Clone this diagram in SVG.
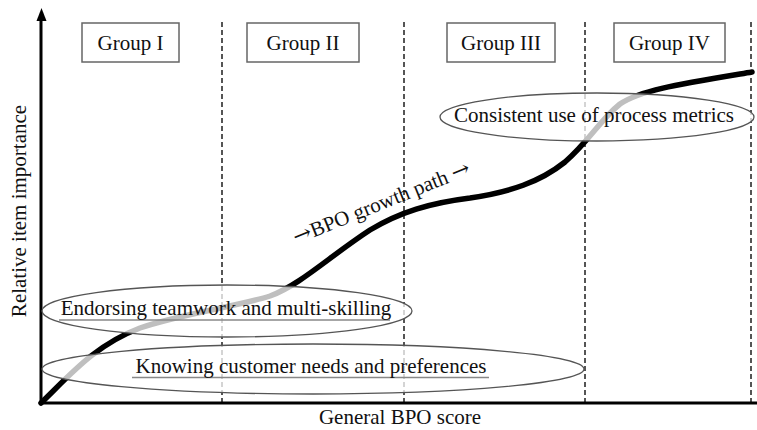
<svg xmlns="http://www.w3.org/2000/svg" width="757" height="430" viewBox="0 0 757 430">
<style>
  text { font-family: "Liberation Serif", "DejaVu Serif", serif; font-size: 21px; fill: #111; }
  .arr { font-family: "DejaVu Serif", serif; font-size: 22px; }
  .box { fill: #fff; stroke: #666; stroke-width: 1.5; }
  .div { stroke: #555; stroke-width: 2; stroke-dasharray: 5 3; fill: none; }
  .ell { fill: #fff; fill-opacity: 0.75; stroke: #555; stroke-width: 1.3; }
  .ul { stroke: #888; stroke-width: 1.5; }
  .axis { stroke: #000; stroke-width: 3; fill: none; }
</style>
<rect width="757" height="430" fill="#fff"/>
<g id="dividers">
  <line class="div" x1="222" y1="22" x2="222" y2="402"/>
  <line class="div" x1="404" y1="22" x2="404" y2="402"/>
  <line class="div" x1="585" y1="22" x2="585" y2="402"/>
  <line class="div" x1="751" y1="22" x2="751" y2="402"/>
</g>
<g id="connectors">
  <path id="growth-curve" d="M41,403 C70,375 95,345 140,328 C180,314 240,306 270,296 C300,285 330,256 370,230 C400,212 430,203 470,198 C510,192 540,182 565,162 C590,140 600,120 620,104 C640,90 680,84 752,72" fill="none" stroke="#000" stroke-width="5.5" stroke-linecap="round"/>
</g>
<g id="axes">
  <line class="axis" x1="41" y1="404" x2="41" y2="18"/>
  <polygon points="41.5,8 36.5,21 46.5,21" fill="#000"/>
  <line class="axis" x1="40" y1="403" x2="757" y2="403"/>
  <text x="26" y="211" text-anchor="middle" transform="rotate(-90 26 211)">Relative item importance</text>
  <text x="400" y="424" text-anchor="middle">General BPO score</text>
</g>
<g id="group1">
  <rect class="box" x="82" y="23" width="97" height="39"/>
  <text x="130.5" y="50" text-anchor="middle">Group I</text>
</g>
<g id="group2">
  <rect class="box" x="247" y="23" width="112" height="39"/>
  <text x="303" y="50" text-anchor="middle">Group II</text>
</g>
<g id="group3">
  <rect class="box" x="447" y="23" width="108" height="39"/>
  <text x="501" y="50" text-anchor="middle">Group III</text>
</g>
<g id="group4">
  <rect class="box" x="614" y="23" width="111" height="39"/>
  <text x="669.5" y="50" text-anchor="middle">Group IV</text>
</g>
<g id="item-metrics">
  <ellipse class="ell" cx="597" cy="117" rx="157" ry="24"/>
  <text x="594" y="122" text-anchor="middle">Consistent use of process metrics</text>
</g>
<g id="item-teamwork">
  <ellipse class="ell" cx="227" cy="311" rx="185" ry="26"/>
  <line class="ul" x1="59" y1="320" x2="390" y2="320"/>
  <text x="226" y="315" text-anchor="middle">Endorsing teamwork and multi-skilling</text>
</g>
<g id="item-customer">
  <ellipse class="ell" cx="313" cy="369" rx="271" ry="25"/>
  <line class="ul" x1="132" y1="377.5" x2="489" y2="377.5"/>
  <text x="311" y="373" text-anchor="middle">Knowing customer needs and preferences</text>
</g>
<g id="path-label">
  <text x="384" y="209" text-anchor="middle" transform="rotate(-22 384 209)"><tspan class="arr">→</tspan>BPO growth path <tspan class="arr">→</tspan></text>
</g>
</svg>
